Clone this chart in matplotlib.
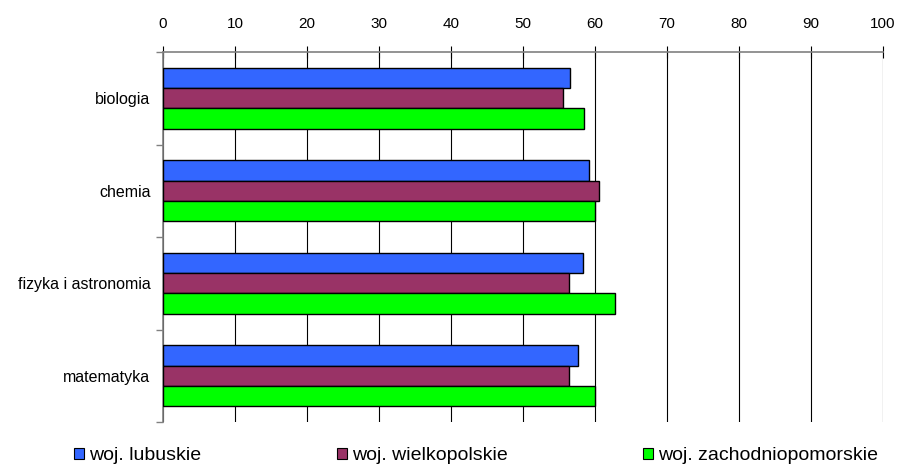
import numpy as np
import matplotlib
matplotlib.use("Agg")
import matplotlib.pyplot as plt
from matplotlib.patches import Patch

plt.rcParams["font.family"] = ["Liberation Sans", "DejaVu Sans"]

subjects = ["biologia", "chemia", "fizyka i astronomia", "matematyka"]
series_names = ["woj. lubuskie", "woj. wielkopolskie", "woj. zachodniopomorskie"]
lubuskie = [56.6, 59.2, 58.3, 57.6]
wielkopolskie = [55.5, 60.5, 56.4, 56.4]
zachodniopomorskie = [58.5, 60.0, 62.8, 60.0]
colors = ["#3366FF", "#993366", "#00FF00"]
xticks = [0, 10, 20, 30, 40, 50, 60, 70, 80, 90, 100]

fig = plt.figure(figsize=(9, 4.65), dpi=100)
ax = fig.add_axes([0.181, 0.0925, 0.8, 0.7955])

y = np.arange(len(subjects))
h = 0.22
for k, (vals, c) in enumerate(zip([lubuskie, wielkopolskie, zachodniopomorskie], colors)):
    ax.barh(y + (k - 1) * h, vals, height=h, color=c, edgecolor="black",
            linewidth=1.0, zorder=3)

ax.set_xlim(0, 100)
ax.set_ylim(len(subjects) - 0.5, -0.5)
ax.set_xticks(xticks)
ax.xaxis.tick_top()
ax.tick_params(axis="x", direction="inout", length=8, width=0.8, color="black",
               labelsize=11, pad=11)
ax.xaxis.grid(True, color="black", linewidth=0.8, zorder=0)

ax.set_yticks(y)
ax.set_yticklabels(subjects, fontsize=11.5)
ax.tick_params(axis="y", which="major", length=0, pad=9)
ax.set_yticks(np.arange(-0.5, len(subjects)), minor=True)
ax.tick_params(axis="y", which="minor", length=5, width=1, color="#808080",
               direction="out")

for s in ["right", "bottom"]:
    ax.spines[s].set_visible(False)
for s in ["top", "left"]:
    ax.spines[s].set_color("#808080")
    ax.spines[s].set_linewidth(1.2)

handles = [Patch(facecolor=c, edgecolor="black", linewidth=0.8) for c in colors]
fig.legend(handles, series_names, loc="center", bbox_to_anchor=(0.529, 0.02),
           ncol=3, frameon=False, fontsize=14, handlelength=0.5, handleheight=0.5,
           handletextpad=0.25, columnspacing=7.0, borderaxespad=0)

fig.savefig("out.png", dpi=100)
